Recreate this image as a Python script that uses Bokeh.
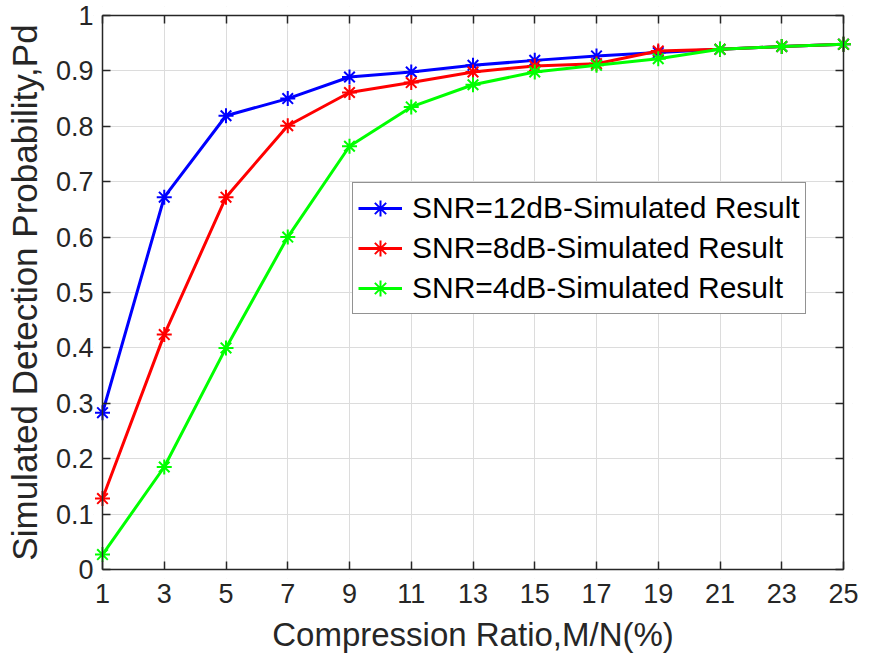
from bokeh.plotting import figure
from bokeh.models import Range1d, FixedTicker, LinearAxis, Legend, LegendItem, BoxAnnotation, Grid
from bokeh.embed import file_html
from bokeh.resources import INLINE

# ---- data ----
compression_ratio = [1, 3, 5, 7, 9, 11, 13, 15, 17, 19, 21, 23, 25]
pd_snr12 = [0.283, 0.672, 0.819, 0.850, 0.889, 0.898, 0.910, 0.919, 0.927, 0.933, 0.939, 0.944, 0.948]
pd_snr8 = [0.128, 0.424, 0.672, 0.801, 0.861, 0.879, 0.898, 0.909, 0.913, 0.936, 0.939, 0.944, 0.948]
pd_snr4 = [0.027, 0.185, 0.400, 0.600, 0.764, 0.835, 0.875, 0.898, 0.910, 0.922, 0.939, 0.944, 0.948]

series_labels = ["SNR=12dB-Simulated Result", "SNR=8dB-Simulated Result", "SNR=4dB-Simulated Result"]
series_colors = ["#0000ff", "#ff0000", "#00ff00"]

x_ticks = [1, 3, 5, 7, 9, 11, 13, 15, 17, 19, 21, 23, 25]
y_ticks = [0, 0.1, 0.2, 0.3, 0.4, 0.5, 0.6, 0.7, 0.8, 0.9, 1]
y_tick_labels = ["0", "0.1", "0.2", "0.3", "0.4", "0.5", "0.6", "0.7", "0.8", "0.9", "1"]

x_label = "Compression Ratio,M/N(%)"
y_label = "Simulated Detection Probability,Pd"

FONT = "Liberation Sans"
DARK = "#262626"

# axes box (pixels) and a small extra margin so edge markers are not clipped
BOX_L, BOX_R, BOX_T, BOX_B = 102, 843, 15, 569
W, H = 869, 672
M = 9
x0, x1 = x_ticks[0], x_ticks[-1]
y0, y1 = y_ticks[0], y_ticks[-1]
px_x = (BOX_R - BOX_L) / (x1 - x0)
px_y = (BOX_B - BOX_T) / (y1 - y0)

p = figure(width=W, height=H, output_backend="svg", toolbar_location=None,
           x_range=Range1d(x0 - M / px_x, x1 + M / px_x),
           y_range=Range1d(y0 - M / px_y, y1 + M / px_y),
           x_axis_type=None, y_axis_type=None,
           min_border_left=BOX_L - M, min_border_right=W - BOX_R - M,
           min_border_top=BOX_T - M, min_border_bottom=H - BOX_B - M)
p.background_fill_color = "white"
p.border_fill_color = "white"
p.outline_line_color = None


def box_axis(ticks, loc, bounds):
    # axis line + inward ticks drawn on the box edge, no labels
    return LinearAxis(ticker=FixedTicker(ticks=ticks), fixed_location=loc, bounds=bounds,
                      major_tick_in=8, major_tick_out=0, minor_tick_line_color=None,
                      axis_line_color=DARK, axis_line_width=1.5,
                      major_tick_line_color=DARK, major_tick_line_width=1.5,
                      major_label_text_color=None)


def label_axis(ticks, bounds, standoff, label, label_size, label_standoff):
    # tick labels and axis title only
    return LinearAxis(ticker=FixedTicker(ticks=ticks), bounds=bounds,
                      axis_line_color=None, major_tick_line_color=None,
                      minor_tick_line_color=None, major_tick_in=0, major_tick_out=0,
                      major_label_standoff=standoff,
                      major_label_text_font=FONT, major_label_text_font_size="27px",
                      major_label_text_color=DARK,
                      axis_label=label, axis_label_standoff=label_standoff,
                      axis_label_text_font=FONT, axis_label_text_font_size=label_size,
                      axis_label_text_font_style="normal", axis_label_text_color=DARK)


xlab = label_axis(x_ticks, (x0, x1), 14 - M, x_label, "33px", 10)
ylab = label_axis(y_ticks, (y0, y1), 9 - M, y_label, "35px", 9)
ylab.major_label_overrides = {t: l for t, l in zip(y_ticks, y_tick_labels)}
p.add_layout(xlab, "below")
p.add_layout(ylab, "left")

p.add_layout(box_axis(x_ticks, y0, (x0, x1)), "below")
p.add_layout(box_axis(y_ticks, x0, (y0, y1)), "left")
p.add_layout(box_axis(x_ticks, y1, (x0, x1)), "above")
p.add_layout(box_axis(y_ticks, x1, (y0, y1)), "right")

xgrid = Grid(dimension=0, ticker=FixedTicker(ticks=x_ticks), grid_line_color="#dcdcdc", grid_line_width=1)
ygrid = Grid(dimension=1, ticker=FixedTicker(ticks=y_ticks), grid_line_color="#dcdcdc", grid_line_width=1)
p.add_layout(xgrid)
p.add_layout(ygrid)

# white masks over grid overhang outside the axes box
for kw in (dict(top=y0), dict(bottom=y1), dict(right=x0), dict(left=x1)):
    p.add_layout(BoxAnnotation(fill_color="white", fill_alpha=1, line_color=None,
                               level="underlay", **kw))

items = []
for ys, lab, col in zip([pd_snr12, pd_snr8, pd_snr4], series_labels, series_colors):
    ln = p.line(compression_ratio, ys, line_color=col, line_width=3)
    sc = p.scatter(compression_ratio, ys, marker="asterisk", size=15,
                   line_color=col, line_width=2)
    items.append(LegendItem(label=lab, renderers=[ln, sc]))

legend = Legend(items=items, location=(352 - (BOX_L - M), (BOX_B + M) - 314),
                border_line_color=DARK, border_line_width=1,
                background_fill_color="white", background_fill_alpha=1,
                label_text_font=FONT, label_text_font_size="30px", label_text_color="black",
                glyph_width=44, glyph_height=40, label_height=40, spacing=0,
                padding=5, margin=0, label_standoff=10)
p.add_layout(legend)

open("out.html", "w").write(file_html(p, INLINE))
